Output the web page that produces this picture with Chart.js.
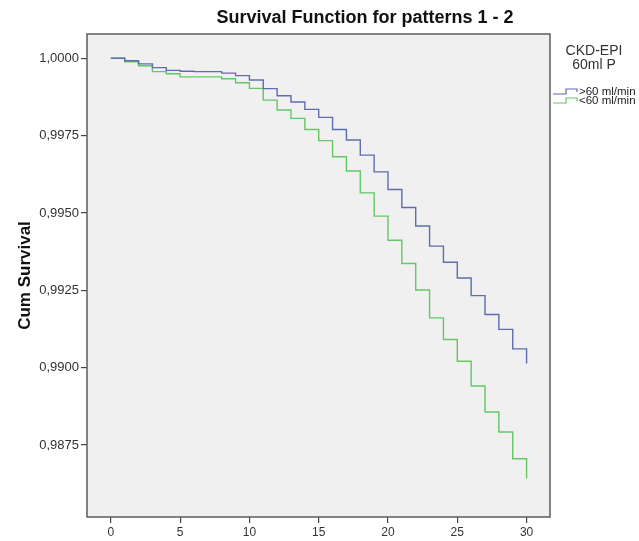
<!DOCTYPE html>
<html>
<head>
<meta charset="utf-8">
<script src="https://cdn.jsdelivr.net/npm/chart.js@4"></script>
<style>
html,body{margin:0;padding:0;background:#fff;}
#wrap{width:639px;height:541px;position:relative;}
</style>
</head>
<body>
<div id="wrap"><canvas id="c" width="639" height="541"></canvas></div>
<script>
const days = [0,1,2,3,4,5,6,7,8,9,10,11,12,13,14,15,16,17,18,19,20,21,22,23,24,25,26,27,28,29,30];
const above60 = [1.00000,0.99992,0.99982,0.99970,0.99961,0.99958,0.99957,0.99957,0.99952,0.99944,0.99930,0.99902,0.99879,0.99859,0.99835,0.99809,0.99770,0.99736,0.99687,0.99633,0.99576,0.99518,0.99458,0.99393,0.99341,0.99290,0.99233,0.99172,0.99124,0.99061,0.99014];
const below60 = [1.00000,0.99989,0.99976,0.99957,0.99950,0.99940,0.99940,0.99940,0.99934,0.99921,0.99903,0.99865,0.99833,0.99806,0.99770,0.99734,0.99682,0.99636,0.99565,0.99490,0.99412,0.99337,0.99251,0.99161,0.99091,0.99021,0.98941,0.98857,0.98792,0.98706,0.98642];
const xTicks = [0,5,10,15,20,25,30];
const yTicks = [0.9875,0.9900,0.9925,0.9950,0.9975,1.0000];
const seriesLabels = ['>60 ml/min','<60 ml/min'];
const legendTitle = ['CKD-EPI','60ml P'];
const chartTitle = 'Survival Function for patterns 1 - 2';
const yTitle = 'Cum Survival';

const FONT = '"Liberation Sans", Arial, sans-serif';
const BLUE = '#5d6db0';
const GREEN = '#63c763';
const colors = [BLUE, GREEN];

const framePlugin = {
  id: 'frame',
  beforeDraw(chart){
    const {ctx, chartArea:a} = chart;
    ctx.save();
    ctx.fillStyle = '#f0f0f0';
    ctx.fillRect(a.left, a.top, a.right-a.left, a.bottom-a.top);
    ctx.restore();
  },
  afterDraw(chart){
    const {ctx, chartArea:a} = chart;
    ctx.save();
    ctx.strokeStyle = '#5c5c5c';
    ctx.lineWidth = 1.5;
    ctx.strokeRect(a.left, a.top, a.right-a.left, a.bottom-a.top);
    // title
    ctx.fillStyle = '#111';
    ctx.font = 'bold 18px ' + FONT;
    ctx.textAlign = 'center';
    ctx.textBaseline = 'middle';
    ctx.fillText(chartTitle, 365, 18);
    // y title
    ctx.save();
    ctx.translate(25, (a.top+a.bottom)/2);
    ctx.rotate(-Math.PI/2);
    ctx.font = 'bold 17px ' + FONT;
    ctx.fillText(yTitle, 0, 0);
    ctx.restore();
    // legend
    ctx.fillStyle = '#333';
    ctx.font = '14px ' + FONT;
    ctx.fillText(legendTitle[0], 594, 51);
    ctx.fillText(legendTitle[1], 594, 65);
    ctx.font = '11.5px ' + FONT;
    ctx.textAlign = 'left';
    seriesLabels.forEach((lab, i) => {
      const y = 92 + i*9;
      ctx.strokeStyle = colors[i];
      ctx.lineWidth = 1.2;
      ctx.beginPath();
      ctx.moveTo(553, y+2);
      ctx.lineTo(566, y+2);
      ctx.lineTo(566, y-3);
      ctx.lineTo(577, y-3);
      ctx.lineTo(577, y);
      ctx.stroke();
      ctx.fillStyle = '#222';
      ctx.fillText(lab, 579, y);
    });
    ctx.restore();
  }
};

new Chart(document.getElementById('c'), {
  type: 'line',
  data: {
    datasets: [above60, below60].map((vals, i) => ({
      label: seriesLabels[i],
      data: days.map((d, k) => ({x: d, y: vals[k]})),
      borderColor: colors[i],
      borderWidth: 1.4,
      pointRadius: 0,
      stepped: 'before',
      fill: false
    }))
  },
  options: {
    responsive: false,
    animation: false,
    devicePixelRatio: 1,
    layout: {padding: {left: 0, top: 34, right: 89, bottom: 0}},
    plugins: {legend: {display: false}, title: {display: false}, tooltip: {enabled: false}},
    scales: {
      x: {
        type: 'linear', min: -1.72, max: 31.69,
        afterBuildTicks(s){ s.ticks = xTicks.map(v => ({value: v})); },
        afterFit(s){ s.height = 24; },
        grid: {display: true, drawOnChartArea: false, drawTicks: true, tickLength: 6, color: '#444', lineWidth: 1.2},
        border: {display: false},
        ticks: {color: '#333', font: {family: FONT, size: 12}, padding: 2, maxRotation: 0,
                callback: v => String(v)}
      },
      y: {
        type: 'linear', min: 0.985175, max: 1.000786,
        afterBuildTicks(s){ s.ticks = yTicks.map(v => ({value: v})); },
        afterFit(s){ s.width = 87; },
        grid: {display: true, drawOnChartArea: false, drawTicks: true, tickLength: 6, color: '#444', lineWidth: 1.2},
        border: {display: false},
        ticks: {color: '#333', font: {family: FONT, size: 13}, padding: 2,
                callback: v => v.toFixed(4).replace('.', ',')}
      }
    }
  },
  plugins: [framePlugin]
});
</script>
</body>
</html>
